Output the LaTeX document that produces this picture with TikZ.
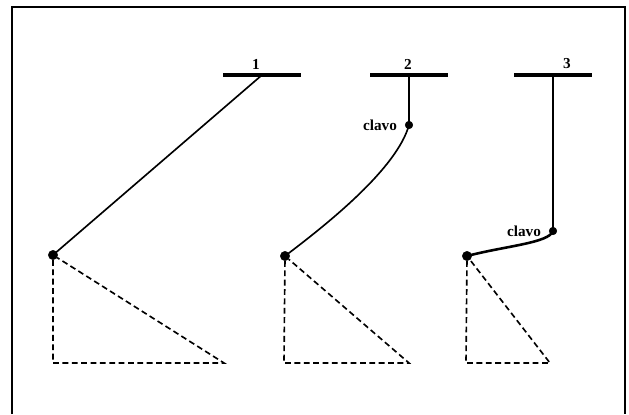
\documentclass[tikz,border=0pt]{standalone}
\usepackage{fontspec}
\setmainfont{Liberation Serif}
\usetikzlibrary{positioning, calc}
\tikzset{
  bar/.style    = {draw=none, fill=black, rectangle, inner sep=0pt,
                   minimum width=2.35cm, minimum height=3pt},
  mass/.style   = {draw=black, fill=black, circle, inner sep=0pt,
                   minimum size=8pt},
  nail/.style   = {draw=black, fill=black, circle, inner sep=0pt,
                   minimum size=6.5pt},
  cord/.style   = {line width=1.4pt},
  dline/.style  = {line width=1.4pt, dash pattern=on 5pt off 3pt},
  lbl/.style    = {font=\fontsize{13}{15}\selectfont\bfseries, inner sep=1pt},
  frame/.style  = {line width=1.6pt}
}
\begin{document}
\begin{tikzpicture}[x=0.03cm, y=-0.03cm]
  \useasboundingbox (0,0) rectangle (629,414);

  % ── Frame ────────────────────────────────────────────────────────────────
  \draw[frame] (12,414) -- (12,7) -- (625,7) -- (625,414);

  % ── Supports ─────────────────────────────────────────────────────────────
  \node[bar] (B1) at (262,75) {};
  \node[bar] (B2) at (409,75) {};
  \node[bar] (B3) at (553,75) {};
  \node[lbl] (N1) at (256,64) {1};
  \node[lbl] (N2) at (408,64) {2};
  \node[lbl] (N3) at (567,64) {3};

  % ── Masses and nails ─────────────────────────────────────────────────────
  \node[mass] (M1) at (53,255)  {};
  \node[mass] (M2) at (285,256) {};
  \node[mass] (M3) at (467,256) {};
  \node[nail] (C2) at (409,125) {};
  \node[nail] (C3) at (553,231) {};
  \node[lbl, left=0.2cm of C2] (L2) {clavo};
  \node[lbl, left=0.2cm of C3] (L3) {clavo};

  % ── Strings ──────────────────────────────────────────────────────────────
  \draw[cord] (B1.center) -- (M1.center);
  \draw[cord] (B2.center) -- (C2.center)
        .. controls (397,168) and (330,222) .. (M2.center);
  \draw[cord] (B3.center) -- (C3.center);
  \draw[cord, line width=2.2pt] (C3.center)
        .. controls (549,243) and (505,246) .. (M3.center);

  % ── Dashed triangles ─────────────────────────────────────────────────────
  \coordinate (F1) at (53,363);   \coordinate (R1) at (224,363);
  \coordinate (F2) at (284,363);  \coordinate (R2) at (409,363);
  \coordinate (F3) at (466,363);  \coordinate (R3) at (550,363);
  \draw[dline] (M1) -- (F1) -- (R1) -- (M1);
  \draw[dline] (M2) -- (F2) -- (R2) -- (M2);
  \draw[dline] (M3) -- (F3) -- (R3) -- (M3);

\end{tikzpicture}
\end{document}
